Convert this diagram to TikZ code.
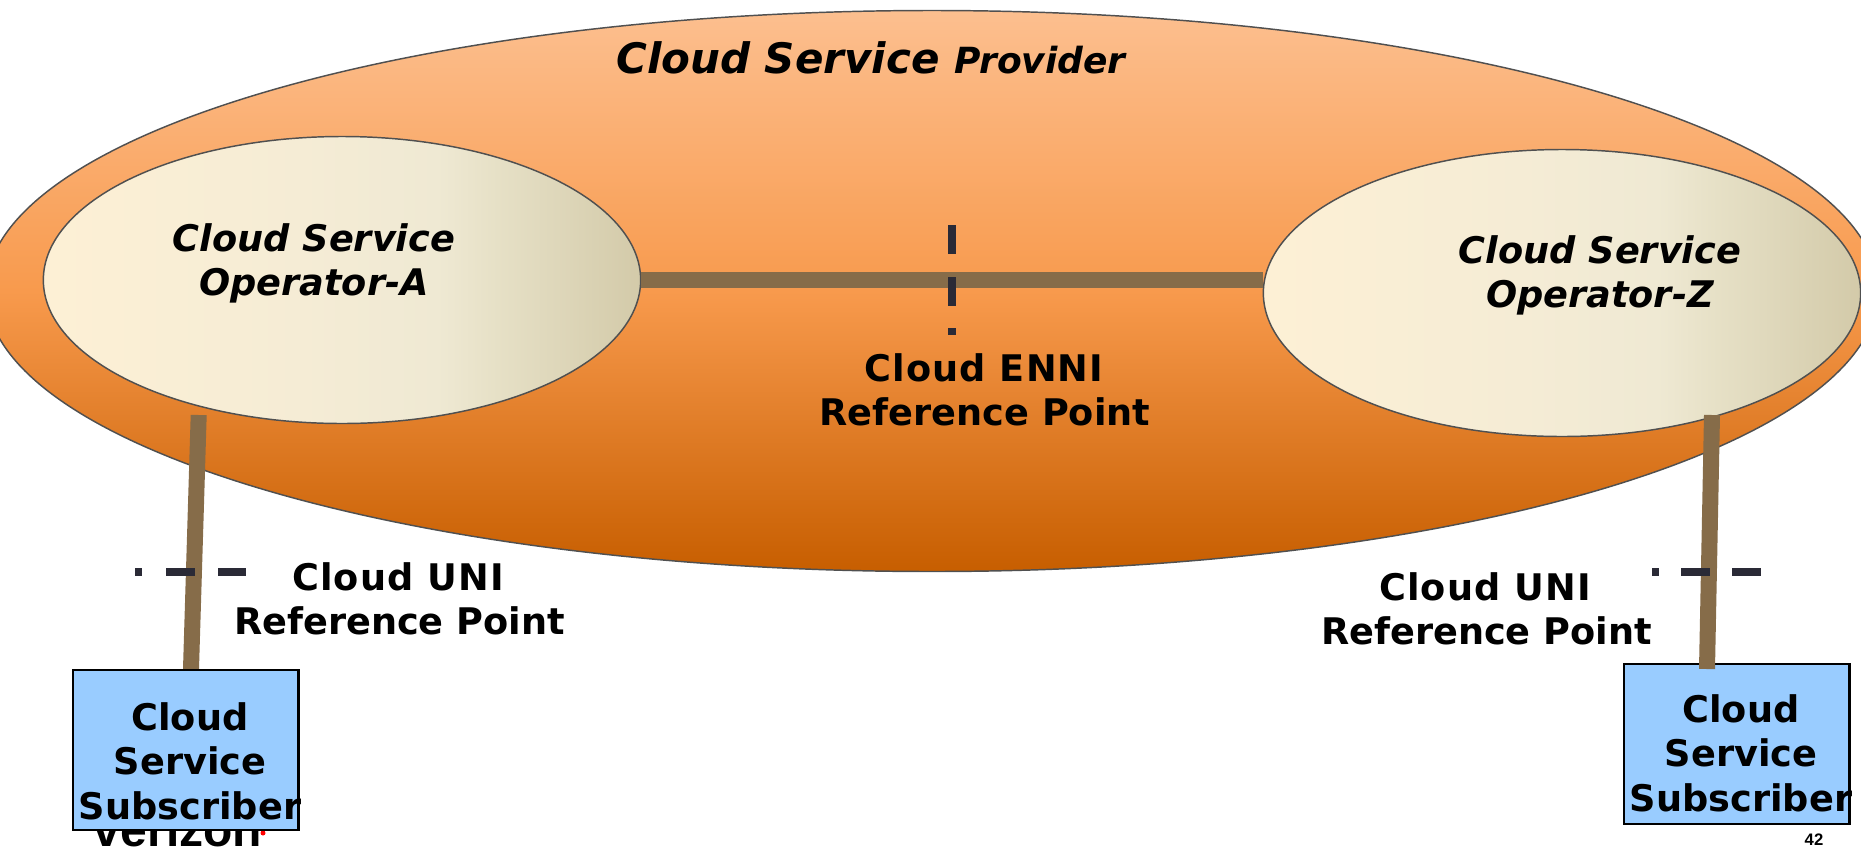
\documentclass[tikz,border=0pt]{standalone}
\usepackage{fontspec}
\usetikzlibrary{shapes.geometric,calc}
\setmainfont{DejaVu Sans}
\newfontfamily\logofont{Liberation Sans}
\definecolor{barcol}{HTML}{866C49}
\definecolor{dashcol}{HTML}{2A2A36}
\definecolor{boxcol}{HTML}{99CCFF}
\definecolor{edgecol}{HTML}{505050}
\definecolor{provA}{HTML}{FCBF8F}
\definecolor{provB}{HTML}{F89A4D}
\definecolor{provC}{HTML}{C75E00}
\definecolor{opA}{HTML}{FDF0D5}
\definecolor{opM}{HTML}{F5ECD5}
\definecolor{opB}{HTML}{EFE9D3}
\definecolor{opD}{HTML}{E6E0C6}
\definecolor{opC}{HTML}{D3CAA9}
\pgfdeclareverticalshading{provshade}{100bp}{
  color(0bp)=(provC);
  color(25bp)=(provC);
  color(50bp)=(provB);
  color(75bp)=(provA);
  color(100bp)=(provA)}
\pgfdeclarehorizontalshading{opshade}{100bp}{
  color(0bp)=(opA);
  color(25bp)=(opA);
  color(46.5bp)=(opM);
  color(58bp)=(opB);
  color(63bp)=(opD);
  color(75bp)=(opC);
  color(100bp)=(opC)}
\newcommand{\bigtxt}{\fontsize{27.5pt}{33pt}\selectfont\bfseries}
\tikzset{
  x=0.75pt,y=-0.75pt,
  provider/.style={ellipse,draw=edgecol,line width=1.1pt,shading=provshade,shading angle=0,inner sep=0,minimum width=1419pt,minimum height=420.75pt},
  operator/.style={ellipse,draw=edgecol,line width=1.1pt,shading=opshade,shading angle=0,inner sep=0,minimum width=448pt,minimum height=215.25pt},
  subbox/.style={draw=black,line width=1.8pt,fill=boxcol,inner sep=0,minimum width=169pt,minimum height=120pt},
  bar/.style={draw=barcol,line width=12pt},
  refdash/.style={draw=dashcol,line width=6pt},
  label/.style={inner sep=0,anchor=base,font=\bigtxt,text=black},
  widelabel/.style={label,font=\bigtxt\addfontfeature{LetterSpace=3}},
  oplabel/.style={label,font=\bigtxt\itshape},
}
\begin{document}
\begin{tikzpicture}
\useasboundingbox (0,0) rectangle (1861,847);
\begin{scope}
\clip (0,0) rectangle (1861,847);
% logo behind the left box
\node[inner sep=0,anchor=base,font=\logofont\fontsize{36pt}{40pt}\selectfont\bfseries] (logo) at (178,846) {verizon};
\fill[red] (263,833) circle[radius=2.5];
\node[provider] (prov) at (932,291) {};
\node[operator] (opa) at (342,280) {};
\node[operator] (opz) at (1562,293) {};
% connectors and boxes
\coordinate (atop) at (198.7,415);
\coordinate (abot) at (191,669);
\coordinate (ztop) at (1712,415);
\coordinate (zbot) at (1707,669);
\draw[bar] (opa.east) -- (opa.east -| opz.west);
\draw[bar] (atop) -- (abot);
\node[subbox,anchor=north west] (boxa) at (72,669) {};
\node[subbox,anchor=north west] (boxz) at (1623,663) {};
\draw[bar] (ztop) -- (zbot);
% reference-point dash marks
\coordinate (ennitop) at (952,225);
\coordinate (ennibot) at (952,335);
\draw[refdash,dash pattern=on 21.75pt off 17.25pt on 21.75pt off 16.5pt on 5.25pt off 20pt] (ennitop) -- (ennibot);
\coordinate (uniastart) at (135,571.5);
\coordinate (uniaend) at (246,571.5);
\draw[refdash,dash pattern=on 5.25pt off 18pt on 21.75pt off 17.25pt on 21.75pt off 20pt] (uniastart) -- (uniaend);
\coordinate (unizstart) at (1652,571.5);
\coordinate (unizend) at (1762,571.5);
\draw[refdash,dash pattern=on 5.25pt off 16.5pt on 21.75pt off 16.5pt on 21.75pt off 20pt] (unizstart) -- (unizend);
% texts
\node[inner sep=0,anchor=base west] (title) at (616,73) {\fontsize{31.5pt}{36pt}\selectfont\bfseries\itshape Cloud Service \fontsize{27pt}{36pt}\selectfont Provider};
\node[oplabel] (opat1) at (314,251) {Cloud Service};
\node[oplabel] (opat2) at (314,295) {Operator-A};
\node[oplabel] (opzt1) at (1600,263) {Cloud Service};
\node[oplabel] (opzt2) at (1600,307) {Operator-Z};
\node[widelabel] (ennit1) at (984,381) {Cloud ENNI};
\node[label] (ennit2) at (985,425) {Reference Point};
\node[widelabel] (unia1) at (398,590) {Cloud UNI};
\node[label] (unia2) at (399.5,634) {Reference Point};
\node[widelabel] (uniz1) at (1485,600.5) {Cloud UNI};
\node[label] (uniz2) at (1486.5,644) {Reference Point};
\node[label] (boxat1) at (190,730) {Cloud};
\node[label] (boxat2) at (190,774.5) {Service};
\node[label] (boxat3) at (190,819.5) {Subscriber};
\node[label] (boxzt1) at (1741,722) {Cloud};
\node[label] (boxzt2) at (1741,766) {Service};
\node[label] (boxzt3) at (1741,811) {Subscriber};
\node[inner sep=0,anchor=base,font=\logofont\fontsize{12.5pt}{15pt}\selectfont\bfseries] (pagenum) at (1814,845) {42};
\end{scope}
\end{tikzpicture}
\end{document}
